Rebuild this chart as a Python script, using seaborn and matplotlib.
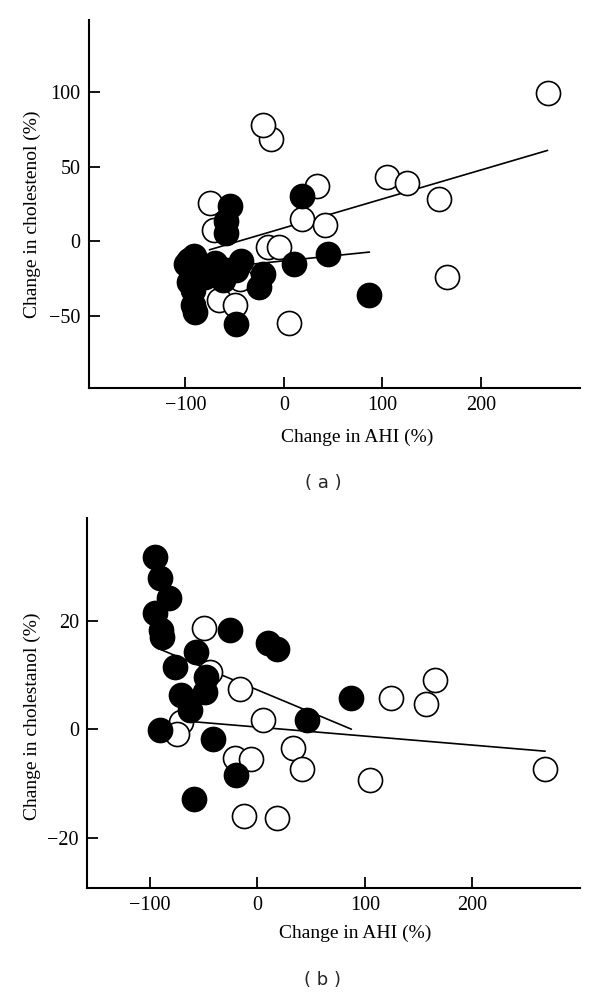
import matplotlib
matplotlib.use("Agg")
import matplotlib.pyplot as plt
import seaborn as sns
import pandas as pd

# ---------------- data ----------------
# Panel (a): change in AHI (%) vs change in cholestenol (%)
a_open_x = [267.5, 104.4, 125.0, 156.9, 165.3, 33.7, 18.1, 41.8, -12.7, -20.8, 5.6,
            -74.9, -70.6, -16.4, -5.3, -65.5, -49.2, -45.0]
a_open_y = [99.0, 43.2, 39.2, 28.4, -23.5, 37.4, 15.0, 10.7, 68.3, 77.6, -54.8,
            25.8, 7.9, -3.4, -3.8, -39.1, -42.5, -25.0]
a_filled_x = [-54.6, -58.7, -58.7, 18.5, 44.5, 10.7, 86.8, -48.5, -90.0, -92.6, -95.9,
              -91.0, -95.9, -85.8, -70.0, -62.1, -43.5, -48.5, -21.5, -24.9, -80.0,
              -99.0, -92.6, -58.7]
a_filled_y = [23.5, 13.4, 5.6, 30.2, -8.3, -15.0, -35.8, -55.0, -47.0, -42.5, -12.3,
              -10.0, -26.8, -16.8, -14.5, -25.7, -13.0, -19.0, -22.0, -30.5, -23.5,
              -15.0, -32.4, -19.0]
a_open_fit_x = [-75.6, 267.5]
a_open_fit_y = [-5.6, 60.9]
a_filled_fit_x = [-99.0, 86.8]
a_filled_fit_y = [-19.7, -7.1]

# Panel (b): change in AHI (%) vs change in cholestanol (%)
b_open_x = [-49.8, -44.2, -15.7, 5.3, -70.6, -74.6, -21.0, -5.5, 33.2, 41.9, -12.4,
            18.3, 104.5, 124.6, 156.5, 165.5, 267.7]
b_open_y = [18.7, 10.6, 7.5, 1.7, 1.4, -0.9, -5.3, -5.5, -3.5, -7.2, -15.9,
            -16.2, -9.3, 5.7, 4.7, 9.1, -7.2]
b_filled_x = [-95.4, -90.1, -82.1, -95.4, -89.1, -88.2, -25.0, 10.0, 18.3, -56.6,
              -76.8, -48.0, -48.9, -70.6, -62.2, 87.5, 46.2, -90.1, -41.2, -20.1, -59.1]
b_filled_y = [31.7, 27.8, 24.1, 21.4, 18.3, 17.0, 18.3, 15.8, 14.7, 14.3,
              11.5, 9.7, 6.9, 6.3, 3.5, 5.7, 1.7, -0.1, -1.8, -8.4, -12.7]
b_filled_fit_x = [-92.3, 87.5]
b_filled_fit_y = [14.9, 0.05]
b_open_fit_x = [-58.2, 267.7]
b_open_fit_y = [1.4, -4.0]

x_ticks = [-100, 0, 100, 200]
a_y_ticks = [-50, 0, 50, 100]
b_y_ticks = [-20, 0, 20]

x_label = "Change in AHI (%)"
a_y_label = "Change in cholestenol (%)"
b_y_label = "Change in cholestanol (%)"
a_caption = "( a )"
b_caption = "( b )"

# ---------------- style ----------------
sns.set_theme(style="ticks")
plt.rcParams["font.family"] = ["Liberation Serif", "DejaVu Serif"]

fig = plt.figure(figsize=(6.0, 9.94), dpi=100)
ax_a = fig.add_axes([0.148, 0.6097, 0.818, 0.370])
ax_b = fig.add_axes([0.1455, 0.1069, 0.821, 0.3716])

MS = 300
EW = 1.2


def draw(ax, ox, oy, fx, fy, ofx, ofy, ffx, ffy):
    sns.lineplot(x=ofx, y=ofy, ax=ax, color="black", linewidth=1.2, zorder=2,
                 estimator=None, sort=False)
    sns.lineplot(x=ffx, y=ffy, ax=ax, color="black", linewidth=1.2, zorder=2,
                 estimator=None, sort=False)
    sns.scatterplot(x=ox, y=oy, ax=ax, s=MS, facecolor="white", edgecolor="black",
                    linewidth=EW, zorder=3)
    sns.scatterplot(x=fx, y=fy, ax=ax, s=MS, color="black", edgecolor="black",
                    linewidth=EW, zorder=4)


draw(ax_a, a_open_x, a_open_y, a_filled_x, a_filled_y,
     a_open_fit_x, a_open_fit_y, a_filled_fit_x, a_filled_fit_y)
draw(ax_b, b_open_x, b_open_y, b_filled_x, b_filled_y,
     b_open_fit_x, b_open_fit_y, b_filled_fit_x, b_filled_fit_y)

ax_a.set_xlim(-198, 300)
ax_a.set_ylim(-98, 148)
ax_a.set_xticks(x_ticks)
ax_a.set_yticks(a_y_ticks)

ax_b.set_xlim(-158, 300)
ax_b.set_ylim(-29.1, 38.8)
ax_b.set_xticks(x_ticks)
ax_b.set_yticks(b_y_ticks)

for ax, ylab, xl, yl in [
    (ax_a, a_y_label, (0.547, -0.111), (-0.098, 0.473)),
    (ax_b, b_y_label, (0.543, -0.101), (-0.094, 0.465)),
]:
    sns.despine(ax=ax)
    for sp in ("left", "bottom"):
        ax.spines[sp].set_linewidth(1.5)
        ax.spines[sp].set_color("black")
    ax.tick_params(direction="in", length=8, width=1.3, colors="black",
                   labelsize=14.5, pad=6)
    ax.set_xlabel(x_label, fontsize=14, color="black")
    ax.set_ylabel(ylab, fontsize=14, color="black")
    ax.xaxis.set_label_coords(*xl)
    ax.yaxis.set_label_coords(*yl)
    ax.grid(False)

fig.text(323 / 600, 1 - 483 / 994, a_caption, ha="center", va="center",
         fontsize=13, family="DejaVu Sans")
fig.text(323 / 600, 1 - 980 / 994, b_caption, ha="center", va="center",
         fontsize=13, family="DejaVu Sans")

fig.savefig("out.png", dpi=100, facecolor="white")
